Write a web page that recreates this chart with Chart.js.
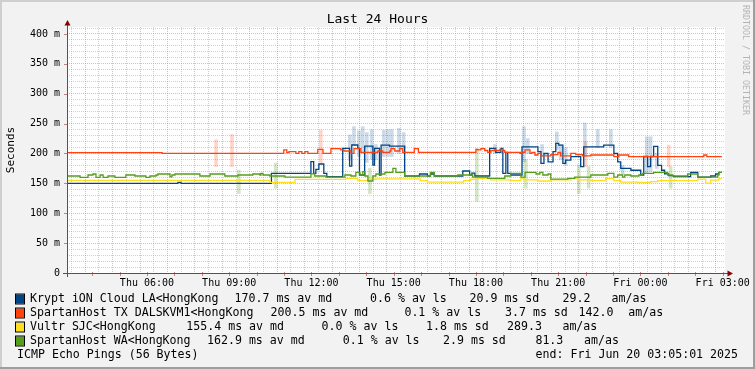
<!DOCTYPE html>
<html><head><meta charset="utf-8">
<script src="https://cdn.jsdelivr.net/npm/chart.js@4/dist/chart.umd.min.js"></script>
<style>html,body{margin:0;padding:0;background:#f2f2f2;}canvas{display:block;}</style>
</head><body>
<canvas id="c" width="755" height="369"></canvas>
<script>
// ---------- DATA ----------
const START_H = 3 + 5/60, END_H = 27 + 5/60;   // Thu 03:05 -> Fri 03:05 (hours since Thu 00:00)
const xTickHours  = [6, 9, 12, 15, 18, 21, 24, 27];
const xTickLabels = ['Thu 06:00','Thu 09:00','Thu 12:00','Thu 15:00','Thu 18:00','Thu 21:00','Fri 00:00','Fri 03:00'];
const yTickValues = [0, 50, 100, 150, 200, 250, 300, 350, 400];
const yTickLabels = ['0','50 m','100 m','150 m','200 m','250 m','300 m','350 m','400 m'];

const hostNames = ['Krypt iON Cloud LA<HongKong','SpartanHost TX DALSKVM1<HongKong','Vultr SJC<HongKong','SpartanHost WA<HongKong'];
const hostColors = ['#004586','#ff420e','#ffde20','#579d1c'];
const medians = ['170.7','200.5','155.4','162.9'];
const losses  = ['0.6','0.1','0.0','0.1'];
const stddevs = ['20.9','3.7','1.8','2.9'];
const amas    = ['29.2','142.0','289.3','81.3'];

// Median RTT (ms), stepped: value holds from time until next time
const kryptT = [3.09,7.13,7.24,10.54,11.98,12.08,12.16,12.27,12.45,12.56,13.14,13.39,13.47,13.69,13.75,13.94,14.24,14.30,14.48,14.54,14.85,15.40,15.94,16.23,16.34,16.48,17.52,17.77,17.85,17.96,18.50,18.72,18.91,18.98,19.09,19.16,19.27,19.68,20.26,20.37,20.48,20.63,20.81,20.91,21.02,21.17,21.27,21.46,21.82,21.93,22.66,23.03,23.17,23.28,23.65,24.01,24.12,24.26,24.37,24.48,24.63,24.77,24.88,25.03,25.21,25.83,26.09,26.56,26.74,26.86,26.97];
const kryptV = [150.1,151.7,150.1,166.8,186.3,166.8,173.5,182.4,166.8,161.2,208.7,179,214.2,208.7,164,212.5,180.7,208.7,164,214,212.5,162.3,165.7,162.3,165.7,162.3,170.7,164,167,162.3,208.7,202,208.7,166.8,202,166.8,164,211,203,183.5,200,186,203,217,214,183.5,189,194.7,177.9,211,214,200,186,175,172,164,195,178,195,212,180,172,166,163,161.3,168.5,160.6,162.3,165.7,168.5,168.5];

const spartanTxT = [3.09,6.55,10.99,11.10,11.18,11.43,11.54,11.65,11.76,11.87,12.23,12.42,12.71,13.07,13.18,13.44,13.55,13.80,14.42,14.60,14.86,14.90,15.04,15.22,15.33,15.75,15.90,18.00,18.07,18.18,18.32,18.43,18.54,18.69,18.72,18.87,18.98,19.05,19.60,19.64,19.79,19.97,20.04,20.15,20.26,20.37,20.73,20.99,21.09,21.46,21.64,21.89,22.19,23.03,23.21,23.57,26.31,26.42,26.97];
const spartanTxV = [201.6,200.3,205.9,201.3,203,200.3,203,200.3,203,200.3,207,200.3,208.2,205.9,204.2,200.2,208.2,201.9,204.2,201.9,204.2,208.2,204.2,208.2,201.9,208.2,201.9,207,205.9,208.2,205,202,205,207,205,207,205,202,200.2,202,205.9,200.2,202,197.5,200.2,196,198,202,196,200.2,198,196,197.5,194.6,197.5,194.6,197.5,194.6,194.6];

const vultrT = [3.09,10.48,11.40,13.25,13.69,14.06,14.35,15.97,16.23,17.55,17.81,18.07,18.54,19.27,19.64,19.75,20.26,20.73,21.46,21.71,22.19,22.73,23.03,23.28,23.90,24.37,24.63,26.09,26.38,26.56,26.86,26.97];
const vultrV = [155.1,151.8,156.8,158.5,154.5,156.9,157.5,154.5,152,154.5,156.9,158.5,155.8,154.5,158.5,155.8,154,155.8,158,155.8,154.5,157.9,154.5,152,151.8,153,154.5,157,150.5,155.6,157.9,157.9];

const spartanWaT = [3.09,3.56,3.85,4.03,4.14,4.29,4.40,4.58,4.83,5.23,5.56,5.96,6.11,6.33,6.40,6.84,6.91,7.02,7.93,8.30,8.84,9.32,9.86,10.12,10.16,10.23,10.48,11.03,11.98,12.12,12.53,13.22,13.44,13.62,13.77,13.87,13.95,14.06,14.24,14.35,14.68,14.97,15.08,15.40,16.34,16.48,17.34,17.88,18.43,19.05,19.27,19.64,19.79,20.19,20.33,20.44,20.63,20.73,21.35,21.60,22.19,22.81,23.03,23.17,23.35,23.43,23.65,23.94,24.08,24.48,24.99,25.18,25.72,26.09,26.82,26.86,26.97];
const spartanWaV = [162.3,160.1,164,165.7,160.1,164,160.1,162.3,160.1,164,162.3,160.1,162.3,164,165.7,161,164,165.7,162.3,165.7,162.3,164,165.7,164,166.8,164,162.3,160.6,166,162.3,160.6,164,162.3,168.5,164,169.6,162.3,154,162.3,165.7,168.5,175.2,168.5,162.3,168.5,162.3,164,160.6,158.5,162.3,166.8,160.6,168.5,165.7,168.5,164,165.7,157,158.5,160.6,164,166.8,160.6,164,160.6,164,162.3,164,166.8,168.5,164,162.3,165.7,160.6,164,168.5,168.5];

// Smoke (ping spread) where visible: time, low, high (ms)
const kryptSmokeT  = [13.40,13.55,13.73,13.87,14.02,14.20,14.35,14.64,14.79,14.93,15.19,15.36,18.69,19.75,19.89,20.41,20.95,21.09,21.27,21.97,22.44,22.92,23.35,24.23,24.37,24.59];
const kryptSmokeLo = [189,214,195,200,185,190,190,195,195,195,200,200,200,186,200,195,206,190,180,195,210,210,165,167,170,175];
const kryptSmokeHi = [231,245,238,245,235,240,215,239,240,240,242,235,215,245,225,215,236,215,210,251,240,240,180,228,228,200];
const spartanTxSmokeT  = [8.52,9.10,12.34,22.00,25.03];
const spartanTxSmokeLo = [178,178,184,178,178];
const spartanTxSmokeHi = [223,232,239,220,214];
const spartanWaSmokeT  = [9.35,10.70,14.13,18.03,19.82,21.75,22.11,25.10];
const spartanWaSmokeLo = [133,142,133,120,142,133,142,142];
const spartanWaSmokeHi = [172,184,175,208,190,181,178,178];

// ---------- BUILD ----------
const pts = (T, V) => T.map((t, i) => ({x: t, y: V[i]}));
const bars = (T, L, H) => T.map((t, i) => ({x: t, y: [L[i], H[i]]}));
const MONO = '"DejaVu Sans Mono", monospace';
const MAJ = 'rgba(222,120,120,0.55)';
const MIN = 'rgba(150,150,150,0.45)';

function lineDs(label, data, color, order) {
  return {type:'line', label, data, borderColor:color, backgroundColor:color, borderWidth:1.3,
    pointRadius:0, stepped:true, fill:false, tension:0, order};
}
function smokeDs(data, color) {
  return {type:'bar', data, backgroundColor:color, borderWidth:0, barThickness:3, grouped:false, order:10};
}

const decor = {
  id:'decor',
  beforeDraw(chart) {
    const {ctx, chartArea:a} = chart;
    ctx.save();
    ctx.fillStyle = '#f2f2f2'; ctx.fillRect(0,0,755,369);
    ctx.fillStyle = '#cfcfcf'; ctx.fillRect(0,0,755,2); ctx.fillRect(0,0,2,369);
    ctx.fillStyle = '#9e9e9e'; ctx.fillRect(0,367,755,2); ctx.fillRect(753,0,2,369);
    ctx.fillStyle = '#ffffff'; ctx.fillRect(a.left, a.top, a.right-a.left, a.bottom-a.top);
    ctx.restore();
  },
  afterDraw(chart) {
    const {ctx, chartArea:a, scales:{x, y}} = chart;
    ctx.save();
    ctx.lineWidth = 1;
    for (let h = 4; h <= 27.001; h += 1) {
      const px = Math.round(x.getPixelForValue(h)) + 0.5;
      ctx.strokeStyle = 'rgba(160,60,60,0.6)';
      ctx.beginPath(); ctx.moveTo(px, a.bottom - 1); ctx.lineTo(px, a.bottom + 3); ctx.stroke();
    }
    for (let v = 50; v <= 400; v += 50) {
      const py = Math.round(y.getPixelForValue(v)) + 0.5;
      ctx.strokeStyle = 'rgba(160,60,60,0.6)';
      ctx.beginPath(); ctx.moveTo(a.left - 3, py); ctx.lineTo(a.left + 1, py); ctx.stroke();
    }
    ctx.strokeStyle = '#5e5050';
    ctx.beginPath(); ctx.moveTo(a.left + 0.5, a.bottom + 4); ctx.lineTo(a.left + 0.5, a.top - 4); ctx.stroke();
    ctx.beginPath(); ctx.moveTo(a.left - 4, a.bottom + 0.5); ctx.lineTo(a.right + 3, a.bottom + 0.5); ctx.stroke();
    ctx.fillStyle = '#8b0000';
    ctx.beginPath(); ctx.moveTo(a.left + 0.5, a.top - 7); ctx.lineTo(a.left - 2.5, a.top - 1.5); ctx.lineTo(a.left + 3.5, a.top - 1.5); ctx.closePath(); ctx.fill();
    ctx.beginPath(); ctx.moveTo(a.right + 8, a.bottom + 0.5); ctx.lineTo(a.right + 2.5, a.bottom - 2.5); ctx.lineTo(a.right + 2.5, a.bottom + 3.5); ctx.closePath(); ctx.fill();
    ctx.fillStyle = '#000';
    ctx.font = '13px ' + MONO; ctx.textAlign = 'center'; ctx.textBaseline = 'middle';
    ctx.fillText('Last 24 Hours', 377.5, 19.5);
    ctx.save(); ctx.translate(11, 150); ctx.rotate(-Math.PI/2);
    ctx.font = '11px ' + MONO; ctx.fillText('Seconds', 0, 0); ctx.restore();
    ctx.save(); ctx.translate(745.5, 60); ctx.rotate(Math.PI/2);
    ctx.fillStyle = '#b4b4b4'; ctx.font = '8.3px ' + MONO; ctx.fillText('RRDTOOL / TOBI OETIKER', 0, 0); ctx.restore();
    ctx.font = '11.6px ' + MONO; ctx.textAlign = 'left'; ctx.textBaseline = 'middle';
    const rowY = [299, 313, 327, 341];
    const cols = [[234.5,370,469.5,562.5,611.5],[270.6,404.4,505,578.5,628.3],[186.3,321.6,426,507,562.4],[207,342.8,443,535.4,584]];
    hostNames.forEach((n, i) => {
      const yy = rowY[i];
      ctx.fillStyle = hostColors[i]; ctx.fillRect(16, yy - 4.5, 8, 9);
      ctx.strokeStyle = '#000'; ctx.lineWidth = 1; ctx.strokeRect(15.5, yy - 5, 9, 10);
      ctx.fillStyle = '#000';
      ctx.fillText(n, 30, yy);
      const c = cols[i];
      ctx.fillText(medians[i] + ' ms av md', c[0], yy);
      ctx.fillText(losses[i] + ' % av ls', c[1], yy);
      ctx.fillText(stddevs[i] + ' ms sd', c[2], yy);
      ctx.fillText(amas[i], c[3], yy);
      ctx.fillText('am/as', c[4], yy);
    });
    ctx.fillText('ICMP Echo Pings (56 Bytes)', 17, 355);
    ctx.textAlign = 'right';
    ctx.fillText('end: Fri Jun 20 03:05:01 2025', 738, 355);
    ctx.restore();
  }
};

const gridColX = c => (c.tick && Number.isInteger(c.tick.value)) ? MAJ : MIN;
const gridColY = c => (c.tick && c.tick.value % 50 === 0) ? MAJ : MIN;

new Chart(document.getElementById('c'), {
  type: 'line',
  data: {
    datasets: [
      smokeDs(bars(kryptSmokeT, kryptSmokeLo, kryptSmokeHi), 'rgba(0,69,134,0.2)'),
      smokeDs(bars(spartanTxSmokeT, spartanTxSmokeLo, spartanTxSmokeHi), 'rgba(255,66,14,0.22)'),
      smokeDs(bars(spartanWaSmokeT, spartanWaSmokeLo, spartanWaSmokeHi), 'rgba(87,157,28,0.25)'),
      lineDs(hostNames[0], pts(kryptT, kryptV), hostColors[0], 4),
      lineDs(hostNames[1], pts(spartanTxT, spartanTxV), hostColors[1], 3),
      lineDs(hostNames[2], pts(vultrT, vultrV), hostColors[2], 2),
      lineDs(hostNames[3], pts(spartanWaT, spartanWaV), hostColors[3], 1)
    ]
  },
  options: {
    responsive: false, animation: false, devicePixelRatio: 1,
    layout: {padding: {left: 0, right: 30, top: 27, bottom: 0}},
    plugins: {legend: {display: false}, tooltip: {enabled: false}, title: {display: false}},
    scales: {
      x: {
        type: 'linear', min: START_H, max: END_H, offset: false,
        afterBuildTicks: s => { const t = []; for (let h = 3.5; h <= 27.001; h += 0.5) t.push({value: h}); s.ticks = t; },
        afterFit: s => { s.height = 96; },
        ticks: {autoSkip: false, maxRotation: 0, padding: 4, color: '#000', font: {family: MONO, size: 10},
          callback: v => { const i = xTickHours.indexOf(v); return i >= 0 ? xTickLabels[i] : ''; }},
        grid: {drawTicks: false, lineWidth: 1, color: gridColX},
        border: {display: false, dash: [1, 1]}
      },
      y: {
        type: 'linear', min: 0, max: 411.7,
        afterBuildTicks: s => { const t = []; for (let v = 0; v <= 410; v += 10) t.push({value: v}); s.ticks = t; },
        afterFit: s => { s.width = 67; },
        ticks: {autoSkip: false, padding: 7, color: '#000', font: {family: MONO, size: 10},
          callback: v => { const i = yTickValues.indexOf(v); return i >= 0 ? yTickLabels[i] : ''; }},
        grid: {drawTicks: false, lineWidth: 1, color: gridColY},
        border: {display: false, dash: [1, 1]}
      }
    }
  },
  plugins: [decor]
});
</script>
</body></html>
